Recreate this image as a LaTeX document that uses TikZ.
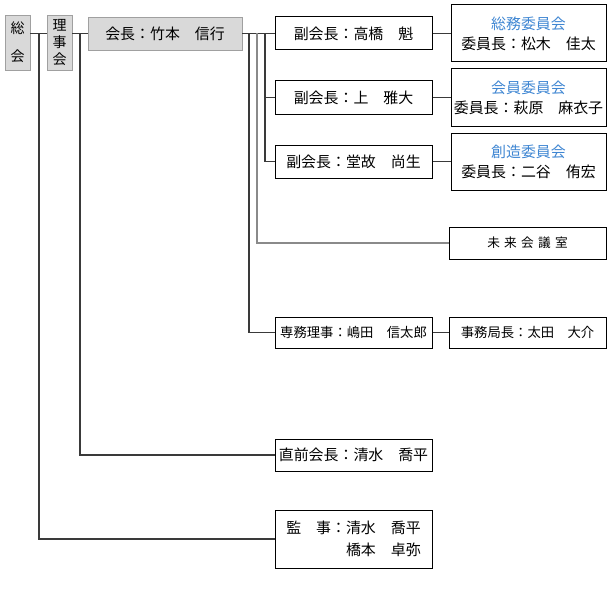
\documentclass[tikz,border=0pt]{standalone}
\usepackage{fontspec}
\newfontfamily\jp{Noto Sans CJK JP}
\definecolor{headfill}{HTML}{D9D9D9}
\definecolor{headline}{HTML}{A0A0A0}
\definecolor{linkline}{HTML}{3A3A3A}
\definecolor{paleline}{HTML}{8A8A8A}
\definecolor{comblue}{HTML}{3F86D2}
\tikzset{
	boxsize/.style 2 args={minimum width=#1*0.75pt, minimum height=#2*0.75pt},
	headbox/.style={draw=headline, fill=headfill, inner sep=0pt, font=\jp\fontsize{11.2}{13}\selectfont, align=center},
	postbox/.style={draw=black, line width=0.75pt, inner sep=0pt, font=\jp\fontsize{11.2}{13}\selectfont, align=center},
	link/.style={draw=linkline, line width=0.8pt},
}
\newcommand{\comtitle}[1]{\textcolor{comblue}{#1}}
\begin{document}
\begin{tikzpicture}[x=0.75pt, y=-0.75pt]
		\useasboundingbox (0,0) rectangle (610,610);
		\node [headbox, boxsize={25}{55}, font=\jp\fontsize{10.5}{21}\selectfont] (v1) at (17.5,42.5) {総\\会};
		\node [headbox, boxsize={25}{55}, font=\jp\fontsize{10.5}{12.8}\selectfont] (v2) at (59.5,42.5) {理\\事\\会};
		\node [headbox, boxsize={154}{33}] (v3) at (165,33.5) {会長：竹本　信行};
		\node [postbox, boxsize={157}{33}] (v4) at (353.5,33.5) {副会長：高橋　魁};
		\node [postbox, boxsize={157}{33}] (v5) at (353.5,97.5) {副会長：上　雅大};
		\node [postbox, boxsize={157}{33}] (v6) at (353.5,161.5) {副会長：堂故　尚生};
		\node [postbox, boxsize={155}{57}, font=\jp\fontsize{11.2}{15}\selectfont] (v7) at (528.5,33.5) {\comtitle{総務委員会}\\委員長：松木　佳太};
		\node [postbox, boxsize={155}{57}, font=\jp\fontsize{11.2}{15}\selectfont] (v8) at (528.5,97.5) {\comtitle{会員委員会}\\委員長：萩原　麻衣子};
		\node [postbox, boxsize={155}{57}, font=\jp\fontsize{11.2}{15}\selectfont] (v9) at (528.5,161.5) {\comtitle{創造委員会}\\委員長：二谷　侑宏};
		\node [postbox, boxsize={157}{32}, font=\jp\fontsize{9.5}{12}\selectfont] (v10) at (527.5,243) {未\hspace{3.2pt}来\hspace{3.2pt}会\hspace{3.2pt}議\hspace{3.2pt}室};
		\node [postbox, boxsize={157}{31}, font=\jp\fontsize{10}{12}\selectfont] (v11) at (353.5,332.5) {専務理事：嶋田　信太郎};
		\node [postbox, boxsize={157}{31}, font=\jp\fontsize{10}{12}\selectfont] (v12) at (527.5,332.5) {事務局長：太田　大介};
		\node [postbox, boxsize={157}{32}] (v13) at (353.5,455) {直前会長：清水　喬平};
		\node [postbox, boxsize={157}{58}, align=right, font=\jp\fontsize{11.2}{16.5}\selectfont] (v14) at (353.5,539) {監　事：清水　喬平\\橋本　卓弥};
		\coordinate (c1) at (39,33.5);
		\coordinate (c2) at (80,33.5);
		\coordinate (c3) at (249,33.5);
		\coordinate (c4) at (257,33.5);
		\coordinate (c5) at (265,33.5);
		\draw [link] (v1.east |- c1) edge (v2.west |- c1);
		\draw [link] (v2.east |- c2) edge (v3.west);
		\draw [link] (v3.east) edge (v4.west);
		\draw [link] (c1) |- (v14.west);
		\draw [link] (c2) |- (v13.west);
		\draw [link] (c3) |- (v11.west);
		\draw [link, draw=paleline, line width=1.1pt] (c4) |- (v10.west);
		\draw [link] (c5) |- (v6.west);
		\draw [link] (c5) |- (v5.west);
		\draw [link] (v4.east) edge (v7.west);
		\draw [link] (v5.east) edge (v8.west);
		\draw [link] (v6.east) edge (v9.west);
		\draw [link] (v11.east) edge (v12.west);
		\end{tikzpicture}
\end{document}
